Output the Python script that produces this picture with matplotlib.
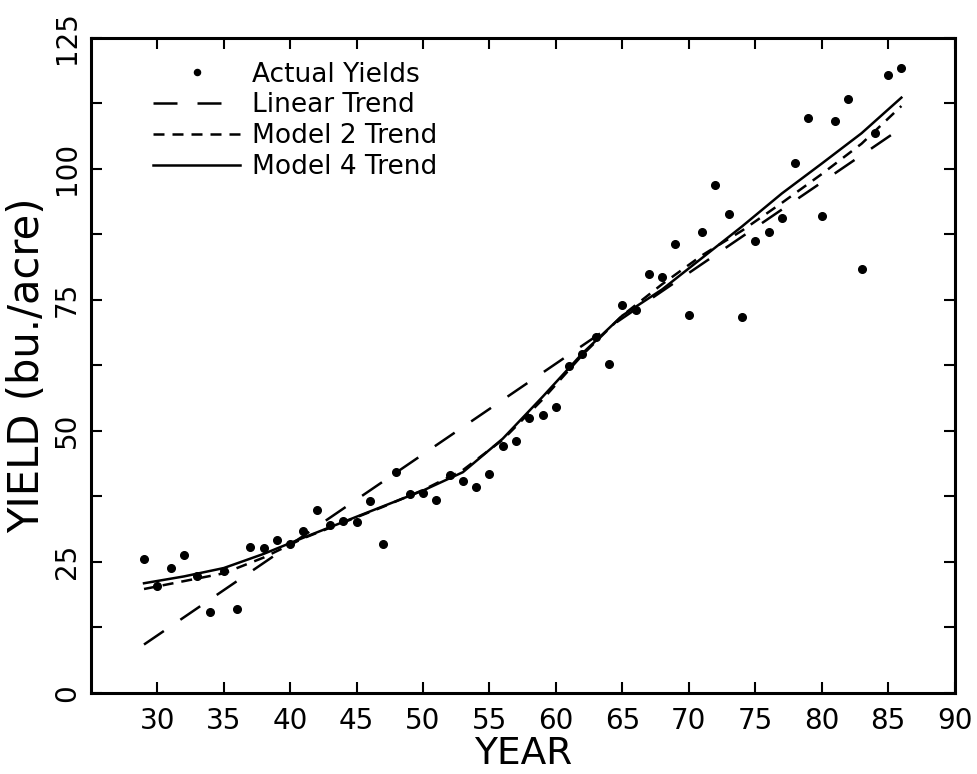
import numpy as np
import matplotlib
matplotlib.use("Agg")
import matplotlib.pyplot as plt
from matplotlib.ticker import MultipleLocator

plt.rcParams['font.family'] = ['DejaVu Sans']

# actual yields, 1929-1986
years = list(range(29, 87))
actual = [25.5, 20.3, 23.9, 26.3, 22.3, 15.5, 23.2, 16.0, 27.9, 27.6,
          29.1, 28.4, 30.9, 34.9, 32.0, 32.7, 32.5, 36.6, 28.3, 42.2,
          38.0, 38.1, 36.8, 41.6, 40.5, 39.3, 41.8, 47.1, 48.1, 52.5,
          53.0, 54.6, 62.4, 64.6, 67.9, 62.8, 74.0, 73.1, 80.0, 79.3,
          85.7, 72.2, 88.0, 96.9, 91.3, 71.8, 86.3, 88.0, 90.7, 101.1,
          109.7, 91.0, 109.1, 113.4, 80.9, 106.8, 118.0, 119.3]

# trend curves
lin_years = [29, 86]
lin_vals = [9.2, 107.8]

trend_years = [29, 32, 35, 38, 41, 44, 47, 50, 53, 56, 59, 62, 65, 68, 71, 74, 77, 80, 83, 86]
model2 = [19.8, 21.3, 22.8, 25.8, 29.5, 32.5, 35.5, 38.7, 42.5, 48.3,
          56.0, 64.5, 72.0, 78.0, 83.5, 88.2, 93.5, 99.0, 104.8, 112.0]
model4 = [20.9, 22.2, 23.8, 26.5, 29.6, 32.6, 35.6, 38.6, 42.1, 48.5,
          56.5, 64.8, 72.0, 77.0, 83.0, 89.0, 95.3, 101.0, 106.8, 113.6]

fig = plt.figure(figsize=(9.77, 7.74), dpi=100)
ax = fig.add_axes([0.093, 0.105, 0.884, 0.846])

ax.plot(years, actual, 'o', color='black', ms=5.5, label='Actual Yields')
ax.plot(lin_years, lin_vals, color='black', lw=1.8, dashes=(9.6, 8), label='Linear Trend')
ax.plot(trend_years, model2, color='black', lw=1.8, dashes=(4.4, 3.2), label='Model 2 Trend')
ax.plot(trend_years, model4, color='black', lw=1.8, label='Model 4 Trend')

ax.set_xlim(25, 90)
ax.set_ylim(0, 125)
ax.set_xticks(range(30, 91, 5))
ax.yaxis.set_major_locator(MultipleLocator(25))
ax.yaxis.set_minor_locator(MultipleLocator(12.5))

ax.tick_params(which='both', direction='in', length=8, width=1.5,
               top=True, right=True, labelsize=20)
ax.tick_params(axis='x', pad=10)
ax.tick_params(axis='y', pad=7)
for lbl in ax.get_yticklabels():
    lbl.set_rotation(90)
    lbl.set_va('center')

for sp in ax.spines.values():
    sp.set_linewidth(2.2)

ax.set_xlabel('YEAR', fontsize=27)
ax.xaxis.set_label_coords(0.5, -0.066)
ax.set_ylabel('YIELD (bu./acre)', fontsize=30)
ax.yaxis.set_label_coords(-0.05, 0.5)

ax.legend(loc='upper left', bbox_to_anchor=(0.06, 0.98), frameon=False,
          fontsize=19, handlelength=3.3, handletextpad=0.45, labelspacing=0.18,
          borderaxespad=0, markerscale=0.8)

fig.savefig('out.png', dpi=100)
